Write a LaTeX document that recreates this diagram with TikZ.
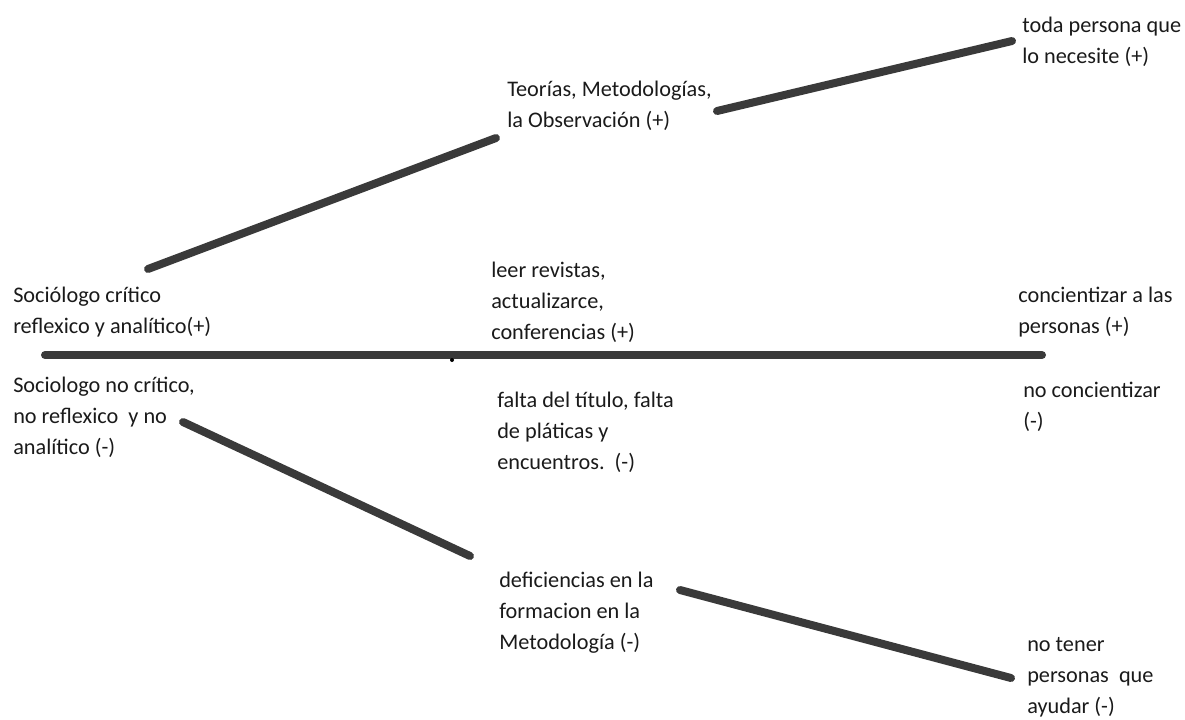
\documentclass[tikz,border=0pt]{standalone}
\usepackage{fontspec}
\setmainfont{Carlito}
\definecolor{linegray}{HTML}{3A3A3A}
\definecolor{txt}{HTML}{1A1A1A}
\begin{document}
\begin{tikzpicture}[x=0.75pt,y=-0.75pt,
  lbl/.style={anchor=base west,align=left,inner sep=0pt,text=txt,
    font=\fontsize{16.7pt}{23.25pt}\selectfont},
  bar/.style={draw=linegray,line width=6pt,line cap=round}]
\useasboundingbox (0,0) rectangle (1185,719);
% labels (anchored at the baseline of their last line)
\node[lbl] (toda) at (1022,63) {toda persona que\\lo necesite (+)};
\node[lbl] (teo) at (507,127) {Teorías, Metodologías,\\la Observación (+)};
\node[lbl] (soc) at (13,333) {Sociólogo crítico\\reflexico y analítico(+)};
\node[lbl] (leer) at (491,339) {leer revistas,\\actualizarce,\\conferencias (+)};
\node[lbl] (conc) at (1018,333) {concientizar a las\\personas (+)};
\node[lbl] (socno) at (13,454) {Sociologo no crítico,\\no reflexico\ \ y no\\analítico (-)};
\node[lbl] (falta) at (497,469) {falta del título, falta\\de pláticas y\\encuentros.\ \ (-)};
\node[lbl] (noconc) at (1023,428) {no concientizar\\(-)};
\node[lbl] (defi) at (499,649) {deficiencias en la\\formacion en la\\Metodología (-)};
\node[lbl] (notener) at (1027,713) {no tener\\personas\ \ que\\ayudar (-)};
% connector end points
\coordinate (s1) at (148,269);
\coordinate (t1) at (496,138);
\coordinate (t2) at (717,111);
\coordinate (p1) at (1012,41);
\coordinate (h1) at (45,355);
\coordinate (h2) at (1042,355);
\coordinate (n1) at (183,422);
\coordinate (d1) at (470,556);
\coordinate (d2) at (680,590);
\coordinate (q1) at (1011,678);
\coordinate (dot) at (452,360);
% connectors
\draw[bar] (s1) -- (t1);
\draw[bar] (t2) -- (p1);
\draw[bar] (h1) -- (h2);
\draw[bar] (n1) -- (d1);
\draw[bar] (d2) -- (q1);
\fill[black] (dot) circle (2);
\end{tikzpicture}
\end{document}
